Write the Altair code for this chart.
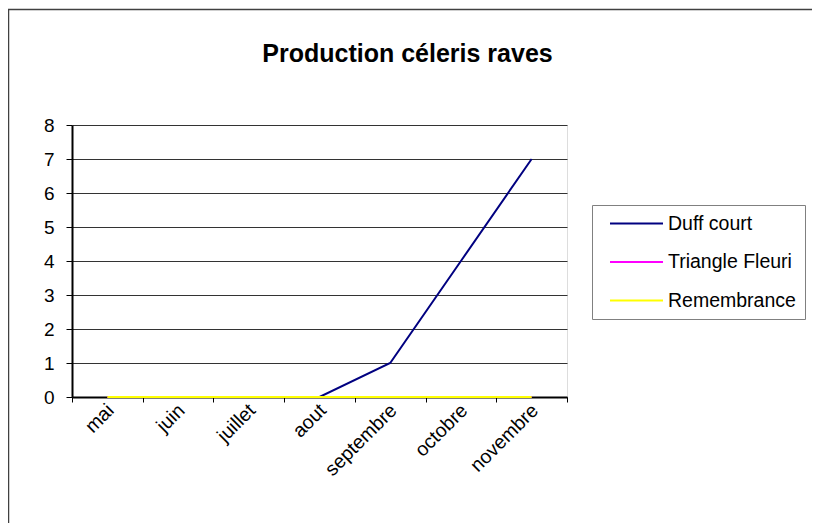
import altair as alt
import pandas as pd

months = ["mai", "juin", "juillet", "aout", "septembre", "octobre", "novembre"]
series_names = ["Duff court", "Triangle Fleuri", "Remembrance"]
duff_court = [0, 0, 0, 0, 1, 4, 7]
triangle_fleuri = [0, 0, 0, 0, 0, 0, 0]
remembrance = [0, 0, 0, 0, 0, 0, 0]
colors = ["#000080", "#FF00FF", "#FFFF00"]
y_ticks = [0, 1, 2, 3, 4, 5, 6, 7, 8]

rows = []
for name, vals in zip(series_names, [duff_court, triangle_fleuri, remembrance]):
    for i, (m, v) in enumerate(zip(months, vals)):
        rows.append({"serie": name, "mois": m, "idx": i, "valeur": v, "ordre": series_names.index(name)})
df = pd.DataFrame(rows)

n = len(months)
tick_vals = [i - 0.5 for i in range(n + 1)]
month_arr = "[" + ",".join("'" + m + "'" for m in months) + "]"
label_expr = f"datum.value < {n - 1} ? {month_arr}[datum.value + 0.5] : ''"

W, H = 495, 272
band = W / n
FONT = "Liberation Sans"

lines = alt.Chart(df).mark_line(strokeWidth=2).encode(
    x=alt.X("idx:Q",
            scale=alt.Scale(domain=[-0.5, n - 0.5], nice=False, zero=False),
            axis=alt.Axis(values=tick_vals, labelExpr=label_expr, title=None,
                          grid=False, labelAngle=-45, labelAlign="right",
                          labelBaseline="middle", labelOffset=band / 2 + 3,
                          labelPadding=5, labelOverlap=False, labelFlush=False,
                          labelBound=False,
                          tickSize=5, tickColor="#000000", domainColor="#000000",
                          domainWidth=2, labelFontSize=19.5, labelFont=FONT,
                          labelColor="#000000")),
    y=alt.Y("valeur:Q",
            scale=alt.Scale(domain=[0, 8], nice=False),
            axis=alt.Axis(values=y_ticks, title=None, grid=True, gridColor="#333333",
                          gridWidth=1, tickSize=6, tickColor="#000000",
                          domainColor="#000000", domainWidth=2, labelPadding=12,
                          labelFontSize=19, labelFont=FONT, labelColor="#000000")),
    color=alt.Color("serie:N",
                    scale=alt.Scale(domain=series_names, range=colors),
                    legend=alt.Legend(title=None, orient="none", legendX=520, legendY=80,
                                      symbolType="stroke", symbolSize=2809,
                                      symbolStrokeWidth=2, labelFontSize=19.5,
                                      labelFont=FONT, labelColor="#000000",
                                      labelOffset=4, rowPadding=18.5, clipHeight=19,
                                      symbolOffset=8,
                                      padding=9, strokeColor="#808080")),
    order=alt.Order("ordre:Q"),
    detail="serie:N",
)

frame_data = alt.Data(values=[{"k": 1}])
left_border = alt.Chart(frame_data).mark_rule(color="#404040", strokeWidth=1.5).encode(
    x=alt.value(-63.5), y=alt.value(-115.5), y2=alt.value(420))
top_border = alt.Chart(frame_data).mark_rule(color="#404040", strokeWidth=1.5).encode(
    x=alt.value(-64), x2=alt.value(800), y=alt.value(-115.5))

chart = alt.layer(lines, left_border, top_border).properties(
    width=W, height=H,
    title=alt.Title("Production céleris raves", font=FONT, fontSize=25, fontWeight="bold",
                    color="#000000", anchor="middle", frame="group", dx=88, offset=-58),
    autosize=alt.AutoSizeParams(type="none"),
    padding={"left": 64, "top": 117, "right": 245, "bottom": 126},
).configure_view(
    fill="#C0C0C0", stroke="#808080", strokeWidth=2
).configure(background="#FFFFFF")

chart.save("out.html", embed_options={"renderer": "svg", "actions": False})
